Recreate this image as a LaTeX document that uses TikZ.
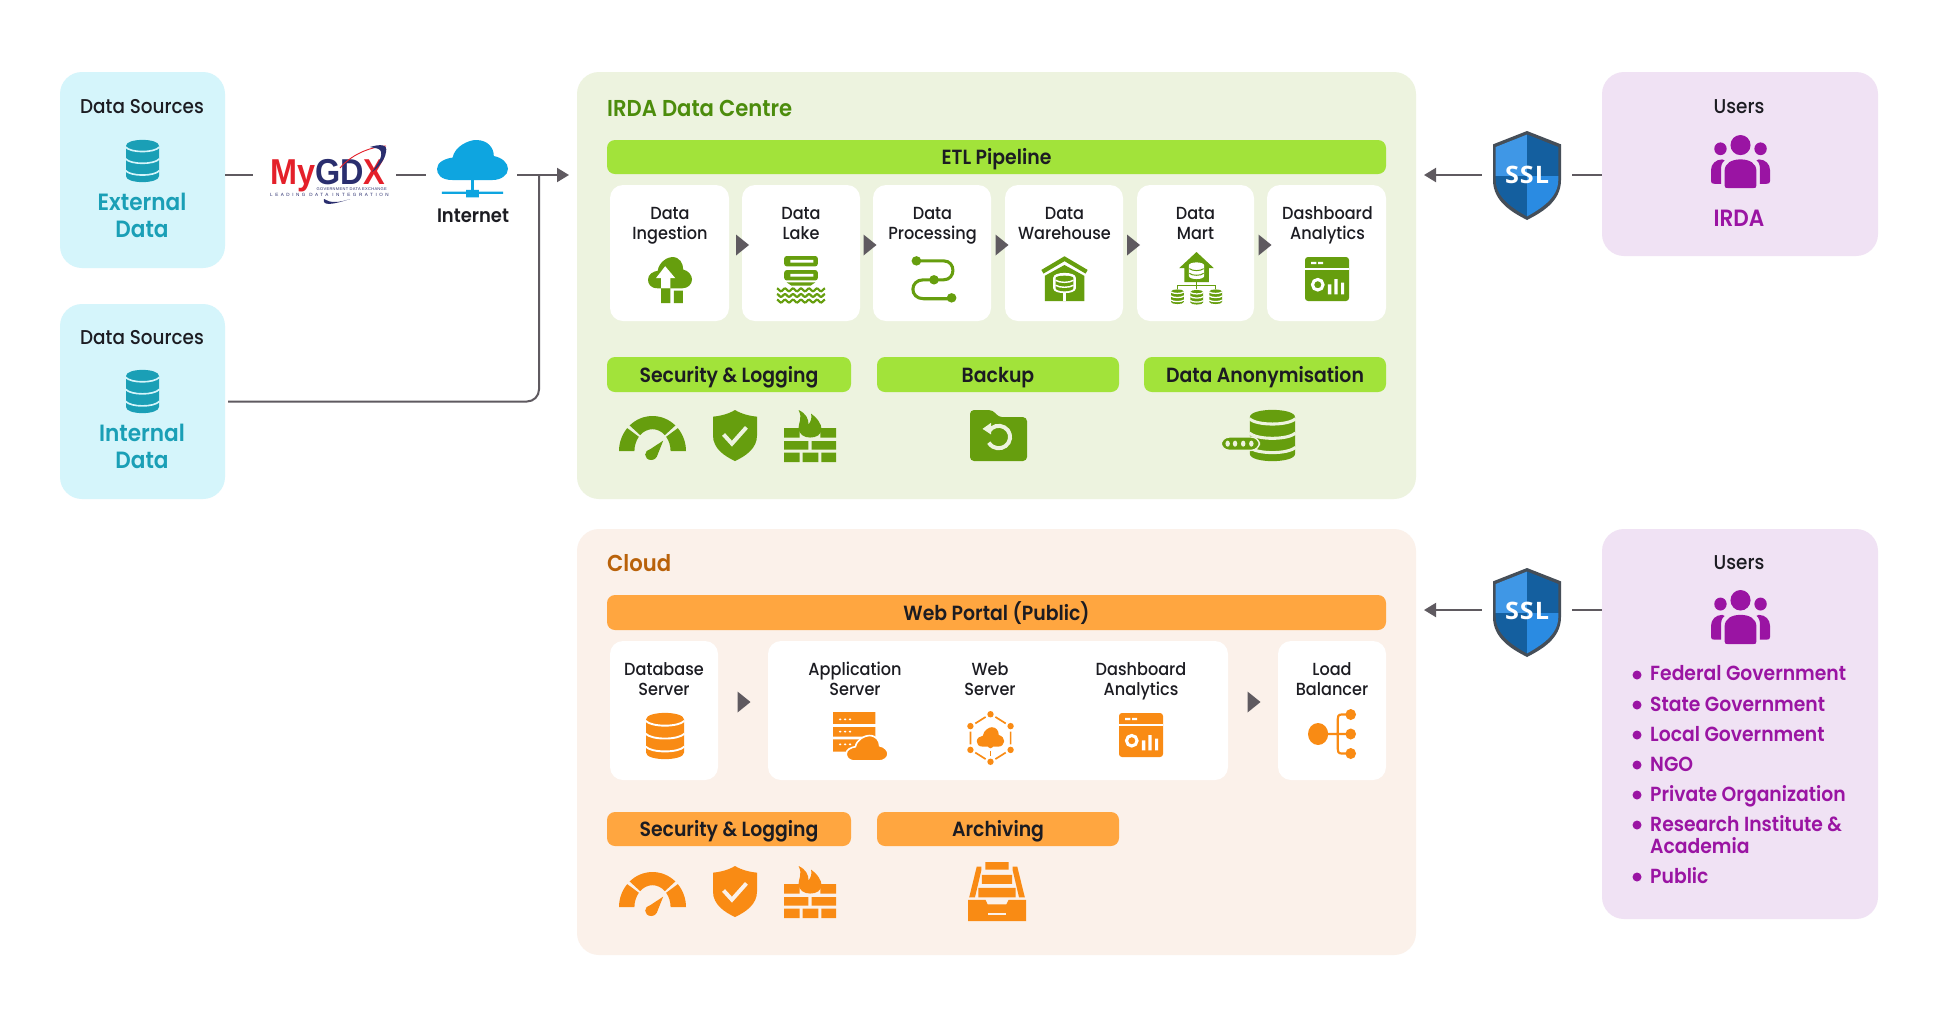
\documentclass[tikz,border=0pt]{standalone}
\usepackage{fontspec}
\usetikzlibrary{arrows.meta,calc}
\setmainfont{Poppins}
\newfontfamily\fmed{Poppins}[UprightFont=* Medium,FakeStretch=0.92]
\newfontfamily\fsemi{Poppins}[UprightFont=* SemiBold,FakeStretch=0.92]
\newfontfamily\fssl{Open Sans}[UprightFont=* Bold,FakeStretch=1.05,LetterSpace=4]
\newfontfamily\flogo{Liberation Sans}[UprightFont=* Bold,FakeStretch=0.9]
\newfontfamily\flogosm{Liberation Sans}[LetterSpace=8]
\newfontfamily\flogosp{Liberation Sans}[LetterSpace=55]
\definecolor{cbg}{HTML}{D5F5FB}
\definecolor{cic}{HTML}{1A9FB6}
\definecolor{gbg}{HTML}{EDF3DF}
\definecolor{gbar}{HTML}{A2E33A}
\definecolor{gic}{HTML}{669E0E}
\definecolor{gtx}{HTML}{4C8C0C}
\definecolor{obg}{HTML}{FBF1EA}
\definecolor{obar}{HTML}{FFA640}
\definecolor{oic}{HTML}{F98B14}
\definecolor{otx}{HTML}{B9620A}
\definecolor{pbg}{HTML}{F0E2F4}
\definecolor{pic}{HTML}{9A14A3}
\definecolor{ink}{HTML}{1C1C22}
\definecolor{line}{HTML}{5F5A60}
\definecolor{sky}{HTML}{0EA5E0}
\definecolor{lred}{HTML}{E4202A}
\definecolor{lnavy}{HTML}{2A2E6E}
\tikzset{
  panel/.style={rounded corners=22pt,inner sep=0pt},
  cardbox/.style={fill=white,rounded corners=13pt,inner sep=0pt},
  barbox/.style={rounded corners=8pt,inner sep=0pt,font=\fsemi\fontsize{20.5}{24}\selectfont,text=ink,text height=15.5pt,text depth=0pt},
  cardtx/.style={font=\fmed\fontsize{17.5}{19.8}\selectfont,text=ink,align=center,inner sep=0pt,text height=14pt,text depth=5pt},
  bigtx/.style={font=\fsemi\fontsize{23.5}{27}\selectfont,align=center,inner sep=0pt,text height=17pt,text depth=0pt},
  headtx/.style={font=\fmed\fontsize{20}{24}\selectfont,text=ink,inner sep=0pt,text height=15pt,text depth=0pt},
  secttx/.style={font=\fsemi\fontsize{23}{27}\selectfont,inner sep=0pt,anchor=west,text height=17pt,text depth=0pt},
  listtx/.style={font=\fsemi\fontsize{20.4}{22.3}\selectfont,text=pic,inner sep=0pt,anchor=west,align=left,text height=15pt,text depth=0pt},
  bul/.style={circle,fill=pic,inner sep=0pt,minimum size=9pt},
  conn/.style={draw=line,line width=2pt},
  arr/.style={conn,-{Triangle[length=12pt,width=14pt]}},
  chev/.style={fill=line},
  icgap/.style={draw=icbg,line width={#1*\iw*0.01pt}},
  icl/.style={draw=ic,line width={#1*\iw*0.01pt}}
}
\newcommand\bx[7]{\node[#1,minimum width={#5-#3},minimum height={#6-#4}] (#2) at ({(#3+#5)/2},{(#4+#6)/2}) {#7};}
\newcommand\tri[2]{\fill[chev] (#1-6.5,#2-10.5) -- (#1+6.5,#2) -- (#1-6.5,#2+10.5) -- cycle;}
\newcommand\ico[7]{\begin{scope}[shift={(#2,#3)},xscale=#4/100,yscale=#5/100]\colorlet{ic}{#6}\colorlet{icbg}{#7}\def\iw{#4}\csname ico#1\endcsname\end{scope}}
\newcommand\cld[5]{\begin{scope}[shift={(#1,#2)},xscale=#3/100,yscale=#4/100]\path[#5] (22,100) .. controls (5,100) and (0,85) .. (0,72) .. controls (0,55) and (12,46) .. (22,44) .. controls (25,15) and (45,0) .. (55,0) .. controls (72,0) and (80,20) .. (80,40) .. controls (92,44) and (100,58) .. (100,72) .. controls (100,88) and (90,100) .. (78,100) -- cycle;\end{scope}}
\newcommand\icodb{%
 \fill[ic] (0,14) .. controls (0,-5) and (100,-5) .. (100,14) -- (100,86) .. controls (100,105) and (0,105) .. (0,86) -- cycle;
 \foreach \yy in {17,45,73}{\draw[icgap=5] (-1,\yy) .. controls (15,\yy+14) and (85,\yy+14) .. (101,\yy);}}
\newcommand\gsec[2]{\fill[ic] (#1:50 and 80) arc[start angle=#1,end angle=#2,x radius=50,y radius=80] -- (#2:27 and 50) arc[start angle=#2,end angle=#1,x radius=27,y radius=50] -- cycle;}
\newcommand\icogauge{%
 \begin{scope}[shift={(50,80)}]\gsec{180}{221}\gsec{227}{313}\gsec{319}{360}\end{scope}
 \fill[ic] (66,56) -- (40,82) -- (56,94) -- cycle;
 \fill[ic] (48,88) ellipse (9 and 12);}
\newcommand\icoshield{%
 \fill[ic] (50,0) .. controls (35,8) and (15,12) .. (0,13) -- (0,50) .. controls (0,75) and (25,90) .. (50,100) .. controls (75,90) and (100,75) .. (100,50) -- (100,13) .. controls (85,12) and (65,8) .. (50,0) -- cycle;
 \draw[icgap=9,line join=miter] (24,48) -- (43,66) -- (76,34);}
\newcommand\icofire{%
 \fill[ic] (0,35) rectangle (30,53) (70,35) rectangle (100,53) (0,60) rectangle (47,76) (53,60) rectangle (100,76) (0,82) rectangle (30,100) (36,82) rectangle (66,100) (72,82) rectangle (100,100);
 \fill[ic] (28,0) .. controls (42,6) and (48,18) .. (47,28) .. controls (52,22) and (54,14) .. (52,7) .. controls (65,16) and (72,28) .. (72,36) .. controls (72,48) and (62,53) .. (50,53) .. controls (38,53) and (28,46) .. (28,34) .. controls (28,24) and (36,16) .. (28,0) -- cycle;}
\newcommand\icodash{%
 \fill[ic,rounded corners=3pt] (0,0) rectangle (100,100);
 \fill[icbg] (0,25) rectangle (100,30);
 \fill[icbg] (14,11) rectangle (26,16) (30,11) rectangle (41,16);
 \draw[icgap=7] (29,63) ellipse (12 and 12);
 \fill[icbg] (52,62) rectangle (60,85) (67,50) rectangle (74,85) (82,58) rectangle (89,85);}
\newcommand\icoingest{%
 \cld{0}{0}{100}{68}{fill=ic}
 \fill[icbg] (39,20) -- (62,46) -- (51,46) -- (51,68) -- (30,68) -- (30,46) -- (18,46) -- cycle;
 \fill[ic] (30,68) rectangle (51,100) (59,73) rectangle (79,100);}
\newcommand\icolake{%
 \fill[ic,rounded corners=2.5pt] (15,0) rectangle (85,22) (15,30) rectangle (85,52);
 \fill[icbg] (28,8) rectangle (76,14) (28,38) rectangle (76,44);
 \fill[ic] (20,56) -- (80,56) -- (70,63) -- (30,63) -- cycle;
 \foreach \yy in {72,84,96}{\draw[icl=4.5] plot[smooth,domain=0:100,samples=41] (\x,{\yy-3*cos(\x*21.6)});}}
\newcommand\icoproc{%
 \draw[icl=7] (10,9) -- (72,9) .. controls (100,9) and (100,53) .. (72,53) -- (26,53) .. controls (-6,53) and (-6,97) .. (26,97) -- (90,97);
 \fill[ic] (10,9) ellipse (11 and 11) (50,53) ellipse (11 and 11) (90,95) ellipse (11 and 11);}
\newcommand\icowh{%
 \draw[icl=9] (3,35) -- (50,6) -- (97,35);
 \fill[ic] (8,44) -- (50,20) -- (92,44) -- (92,100) -- (8,100) -- cycle;
 \fill[icbg] (47,80) rectangle (53,100);
 \fill[icbg] (26,48) .. controls (26,34) and (74,34) .. (74,48) -- (74,72) .. controls (74,86) and (26,86) .. (26,72) -- cycle;
 \begin{scope}\clip (26,40) rectangle (74,85);\fill[ic] (31,49) .. controls (31,42) and (69,42) .. (69,49) -- (69,71) .. controls (69,81) and (31,81) .. (31,71) -- cycle;\end{scope}
 \draw[icgap=3] (31,54) .. controls (40,60) and (60,60) .. (69,54);
 \draw[icgap=3] (31,65) .. controls (40,71) and (60,71) .. (69,65);}
\newcommand\icomart{%
 \fill[ic] (50,0) -- (84,31) -- (74,31) -- (74,58) -- (26,58) -- (26,31) -- (16,31) -- cycle;
 \fill[icbg] (35,26) .. controls (35,18) and (65,18) .. (65,26) -- (65,46) .. controls (65,54) and (35,54) .. (35,46) -- cycle;
 \draw[ic,line width=1pt] (36,32) .. controls (42,37) and (58,37) .. (64,32) (36,41) .. controls (42,46) and (58,46) .. (64,41);
 \draw[ic,line width=1.2pt] (50,58) -- (50,72) (12,72) -- (12,64) -- (88,64) -- (88,72);
 \ico{db}{0}{72}{25}{28}{ic}{icbg}\ico{db}{38}{73}{25}{28}{ic}{icbg}\ico{db}{75}{72}{25}{28}{ic}{icbg}}
\newcommand\icofolder{%
 \fill[ic,rounded corners=4pt] (0,0) -- (40,0) -- (50,14) -- (100,14) -- (100,100) -- (0,100) -- cycle;
 \draw[icgap=7] (33,42) arc[start angle=210,end angle=510,x radius=20,y radius=22];
 \fill[icbg] (37,25) -- (37,48) -- (22,37) -- cycle;}
\newcommand\icopass{%
 \ico{db}{39}{0}{61}{100}{ic}{icbg}
 \fill[ic,rounded corners=8pt,draw=icbg,line width=1.4pt] (0,53) rectangle (52,79);
 \foreach \xx in {9,19,30,41}{\fill[icbg] (\xx,66) ellipse (3 and 6);}}
\newcommand\icoapp{%
 \fill[ic] (0,0) rectangle (77,24) (0,31) rectangle (77,50) (0,56) rectangle (77,81);
 \foreach \yy in {15,40,66}{\foreach \xx in {13,22,31}{\fill[icbg] (\xx,\yy) ellipse (2.4 and 2.2);}}
 \cld{24}{48}{76}{52}{fill=ic,draw=icbg,line width=1.6pt}}
\newcommand\icoweb{%
 \fill[ic] (50,6) ellipse (6.5 and 6) (91,28) ellipse (6.5 and 6) (91,72) ellipse (6.5 and 6) (50,94) ellipse (6.5 and 6) (9,72) ellipse (6.5 and 6) (9,28) ellipse (6.5 and 6);
 \draw[icl=3.4] (60,11) -- (81,23) (91,38) -- (91,62) (81,77) -- (60,89) (40,89) -- (19,77) (9,62) -- (9,38) (19,23) -- (40,11);
 \cld{22}{30}{56}{36}{fill=ic}
 \draw[icgap=3] (50,62) -- (50,68);
 \fill[ic] (50,63) ellipse (6 and 6);
 \draw[icl=3.4] (50,74) -- (50,84);}
\newcommand\icoload{%
 \fill[ic] (21,50) ellipse (21 and 22);
 \draw[icl=4.5] (40,50) -- (88,50) (88,11) -- (70,11) .. controls (63,11) and (62,15) .. (62,20) -- (62,80) .. controls (62,85) and (63,89) .. (70,89) -- (88,89);
 \fill[ic] (89,11) ellipse (11 and 11) (89,50) ellipse (11 and 11) (89,89) ellipse (11 and 11);}
\newcommand\icoarch{%
 \fill[ic] (30,0) rectangle (70,13) (24,22) rectangle (76,37) (18,44) rectangle (82,60);
 \fill[ic] (15,8) -- (23,8) -- (23,14) -- (12,60) -- (2,60) -- cycle (85,8) -- (77,8) -- (77,14) -- (88,60) -- (98,60) -- cycle;
 \fill[ic] (0,64) -- (30,64) -- (34,72) -- (66,72) -- (70,64) -- (100,64) -- (100,100) -- (0,100) -- cycle;
 \fill[icbg] (35,86) rectangle (65,90);}
\newcommand\icopeople{%
 \fill[ic] (50,19) ellipse (17 and 19) (16,26) ellipse (10.5 and 12) (84,26) ellipse (10.5 and 12);
 \fill[ic] (23,95) -- (23,68) .. controls (23,53) and (35,46) .. (50,46) .. controls (65,46) and (77,53) .. (77,68) -- (77,95) .. controls (77,100) and (75,100) .. (72,100) -- (28,100) .. controls (25,100) and (23,100) .. (23,95) -- cycle;
 \fill[ic] (19,46) .. controls (8,46) and (0,55) .. (0,66) -- (0,87) .. controls (0,91) and (2,92) .. (6,92) -- (17,92) -- (17,66) .. controls (17,58) and (18,52) .. (23,48) -- cycle;
 \fill[ic] (81,46) .. controls (92,46) and (100,55) .. (100,66) -- (100,87) .. controls (100,91) and (98,92) .. (94,92) -- (83,92) -- (83,66) .. controls (83,58) and (82,52) .. (77,48) -- cycle;}
\newcommand\icoinet{%
 \cld{0}{0}{100}{69}{fill=ic}
 \fill[ic] (48,69) rectangle (52,92) (7,89) rectangle (93,93) (41,86) rectangle (59,99);}
\newcommand\ssl[2]{%
 \begin{scope}[shift={(#1,#2)},xscale=.68,yscale=.89]
 \fill[ssledge] (50,0) -- (100,15) -- (100,55) .. controls (100,80) and (70,92) .. (50,100) .. controls (30,92) and (0,80) .. (0,55) -- (0,15) -- cycle;
 \begin{scope}
 \clip (50,4) -- (96,18) -- (96,55) .. controls (96,76) and (68,88) .. (50,96) .. controls (32,88) and (4,76) .. (4,55) -- (4,18) -- cycle;
 \fill[sslA] (0,0) rectangle (50,50);
 \fill[sslB] (50,0) rectangle (100,50);
 \fill[sslB] (0,50) rectangle (50,100);
 \fill[sslC] (50,50) rectangle (100,100);
 \end{scope}\end{scope}}
\definecolor{ssledge}{HTML}{454E58}
\definecolor{sslA}{HTML}{3F97E6}
\definecolor{sslB}{HTML}{145F9F}
\definecolor{sslC}{HTML}{2A8BE2}
\begin{document}
\begin{tikzpicture}[x=1pt,y=-1pt]
\useasboundingbox (0,0) rectangle (1937,1029);
\fill[white] (0,0) rectangle (1937,1029);
% panels
\bx{panel,fill=cbg}{ds1}{60}{72}{225}{268}{}
\bx{panel,fill=cbg}{ds2}{60}{304}{225}{499}{}
\bx{panel,fill=gbg}{dc}{577}{72}{1416}{499}{}
\bx{panel,fill=obg}{cloud}{577}{529}{1416}{955}{}
\bx{panel,fill=pbg}{u1}{1602}{72}{1878}{256}{}
\bx{panel,fill=pbg}{u2}{1602}{529}{1878}{919}{}
% data sources
\node[headtx] (ds1h) at (142,106) {Data Sources};
\ico{db}{126}{140}{33}{42}{cic}{cbg}
\node[bigtx,text=cic] (ds1t) at (142,228.6) {External\\Data};
\node[headtx] (ds2h) at (142,337) {Data Sources};
\ico{db}{126}{370}{33}{43}{cic}{cbg}
\node[bigtx,text=cic] (ds2t) at (142,459.6) {Internal\\Data};
% logo and internet
\node[inner sep=0pt,minimum width=143pt,minimum height=60pt] (mygdx) at (324.5,175) {};
\node[inner sep=0pt,anchor=base west,font=\flogo\fontsize{36}{36}\selectfont] (logotx) at (270,184) {\textcolor{lred}{My}\textcolor{lnavy}{GD}\textcolor{lred}{X}};
\node[inner sep=0pt,anchor=base east,font=\flogosm\fontsize{4}{4}\selectfont,text=lnavy] (logos1) at (387,190) {GOVERNMENT DATA EXCHANGE};
\node[inner sep=0pt,anchor=base west,font=\flogosp\fontsize{4.6}{4}\selectfont,text=lnavy] (logos2) at (270,196) {LEADING DATA INTEGRATION};
\draw[lred,line width=.9pt] (340,168) .. controls (350,156) and (368,147) .. (386,146);
\fill[lnavy] (370,147) .. controls (380,144) and (388,144) .. (386,152) .. controls (385,160) and (378,168) .. (372,172) .. controls (378,164) and (384,155) .. (380,150) .. controls (378,148) and (374,148) .. (370,147) -- cycle;
\fill[lnavy] (324,199) .. controls (322,206) and (332,205) .. (350,199) .. controls (338,203) and (330,203) .. (324,199) -- cycle;
\node[inner sep=0pt,minimum width=91pt,minimum height=60pt] (inet) at (471.5,175) {};
\ico{inet}{437}{140}{71}{58}{sky}{white}
\node[inner sep=0pt,font=\fsemi\fontsize{19.5}{24}\selectfont,text=ink] (inetl) at (473,216) {Internet};
\coordinate (dcin) at (569,175);
\coordinate (joinpt) at (539,175);
\draw[conn] (ds1.east |- mygdx.west) -- (mygdx.west);
\draw[conn] (mygdx.east) -- (inet.west);
\draw[arr] (inet.east) -- (dcin);
\draw[conn,rounded corners=12pt] ([xshift=3pt]ds2.east) -| (joinpt);
% IRDA data centre
\node[secttx,text=gtx] (dct) at (607,107.5) {IRDA Data Centre};
\bx{barbox,fill=gbar}{etl}{607}{140}{1386}{174}{ETL Pipeline}
\bx{cardbox}{c1}{610}{185}{729}{321}{}
\bx{cardbox}{c2}{742}{185}{860}{321}{}
\bx{cardbox}{c3}{873}{185}{991}{321}{}
\bx{cardbox}{c4}{1005}{185}{1123}{321}{}
\bx{cardbox}{c5}{1137}{185}{1254}{321}{}
\bx{cardbox}{c6}{1267}{185}{1386}{321}{}
\node[cardtx] (t1) at (670,234.5) {Data\\Ingestion};
\node[cardtx] (t2) at (801,234.5) {Data\\Lake};
\node[cardtx] (t3) at (932.5,234.5) {Data\\Processing};
\node[cardtx] (t4) at (1064.5,234.5) {Data\\Warehouse};
\node[cardtx] (t5) at (1195.5,234.5) {Data\\Mart};
\node[cardtx] (t6) at (1327.5,234.5) {Dashboard\\Analytics};
\tri{742.5}{245}\tri{870}{245}\tri{1002}{245}\tri{1133.5}{245}\tri{1265}{245}
\ico{ingest}{648}{257}{44}{46}{gic}{white}
\ico{lake}{777}{256}{48}{47}{gic}{white}
\ico{proc}{912}{257}{44}{43}{gic}{white}
\ico{wh}{1041}{256}{47}{45}{gic}{white}
\ico{mart}{1171}{252}{51}{52}{gic}{white}
\ico{dash}{1305}{257}{44}{44}{gic}{white}
\bx{barbox,fill=gbar}{sl1}{607}{357}{851}{392}{Security \& Logging}
\bx{barbox,fill=gbar}{bk}{877}{357}{1119}{392}{Backup}
\bx{barbox,fill=gbar}{an}{1144}{357}{1386}{392}{Data Anonymisation}
\ico{gauge}{619}{416}{67}{44}{gic}{gbg}
\ico{shield}{713}{410}{44}{51}{gic}{gbg}
\ico{fire}{784}{410}{52}{52}{gic}{gbg}
\ico{folder}{970}{410}{57}{51}{gic}{gbg}
\ico{pass}{1221}{410}{74}{51}{gic}{gbg}
% cloud
\node[secttx,text=otx] (clt) at (607,563) {Cloud};
\bx{barbox,fill=obar}{wp}{607}{595}{1386}{630}{Web Portal (Public)}
\bx{cardbox}{k1}{610}{641}{718}{780}{}
\bx{cardbox}{k2}{768}{641}{1228}{780}{}
\bx{cardbox}{k3}{1278}{641}{1386}{780}{}
\node[cardtx] (w1) at (664,690.5) {Database\\Server};
\node[cardtx] (w2) at (855,690.5) {Application\\Server};
\node[cardtx] (w3) at (990,690.5) {Web\\Server};
\node[cardtx] (w4) at (1141,690.5) {Dashboard\\Analytics};
\node[cardtx] (w5) at (1332,690.5) {Load\\Balancer};
\tri{744}{702}\tri{1254}{702}
\ico{db}{646}{713}{38}{46}{oic}{white}
\ico{app}{833}{712}{55}{49}{oic}{white}
\ico{web}{966}{711}{49}{54}{oic}{white}
\ico{dash}{1119}{713}{44}{44}{oic}{white}
\ico{load}{1308}{709}{48}{50}{oic}{white}
\bx{barbox,fill=obar}{sl2}{607}{812}{851}{846}{Security \& Logging}
\bx{barbox,fill=obar}{ar}{877}{812}{1119}{846}{Archiving}
\ico{gauge}{619}{872}{67}{44}{oic}{obg}
\ico{shield}{713}{866}{44}{51}{oic}{obg}
\ico{fire}{784}{866}{52}{52}{oic}{obg}
\ico{arch}{968}{862}{58}{59}{oic}{obg}
% SSL and users
\node[inner sep=0pt,minimum width=90pt,minimum height=89pt] (ssl1) at (1527,175) {};
\node[inner sep=0pt,minimum width=90pt,minimum height=89pt] (ssl2) at (1527,610) {};
\ssl{1493}{131}
\node[inner sep=0pt,text=white,font=\fssl\fontsize{24}{24}\selectfont] (ssl1t) at (1527,175) {SSL};
\ssl{1493}{568}
\node[inner sep=0pt,text=white,font=\fssl\fontsize{24}{24}\selectfont] (ssl2t) at (1527,611) {SSL};
\coordinate (dcout) at (1424,175);
\coordinate (clout) at (1424,610);
\draw[conn] (u1.west |- ssl1.east) -- (ssl1.east);
\draw[arr] (ssl1.west) -- (dcout);
\draw[conn] (u2.west |- ssl2.east) -- (ssl2.east);
\draw[arr] (ssl2.west) -- (clout);
\node[headtx] (u1h) at (1739,106) {Users};
\ico{people}{1711}{135}{59}{53}{pic}{pbg}
\node[bigtx,text=pic] (u1t) at (1739,218) {IRDA};
\node[headtx] (u2h) at (1739,562) {Users};
\ico{people}{1711}{590}{59}{54}{pic}{pbg}
\node[bul] (b1) at (1637,675) {};
\node[listtx] (l1) at (1650,673) {Federal Government};
\node[bul] (b2) at (1637,705) {};
\node[listtx] (l2) at (1650,704) {State Government};
\node[bul] (b3) at (1637,735) {};
\node[listtx] (l3) at (1650,734) {Local Government};
\node[bul] (b4) at (1637,765) {};
\node[listtx] (l4) at (1650,764) {NGO};
\node[bul] (b5) at (1637,795) {};
\node[listtx] (l5) at (1650,794) {Private Organization};
\node[bul] (b6) at (1637,825) {};
\node[listtx] (l6) at (1650,846) {Research Institute \&\\Academia};
\node[bul] (b7) at (1637,877) {};
\node[listtx] (l7) at (1650,876) {Public};
\end{tikzpicture}
\end{document}
